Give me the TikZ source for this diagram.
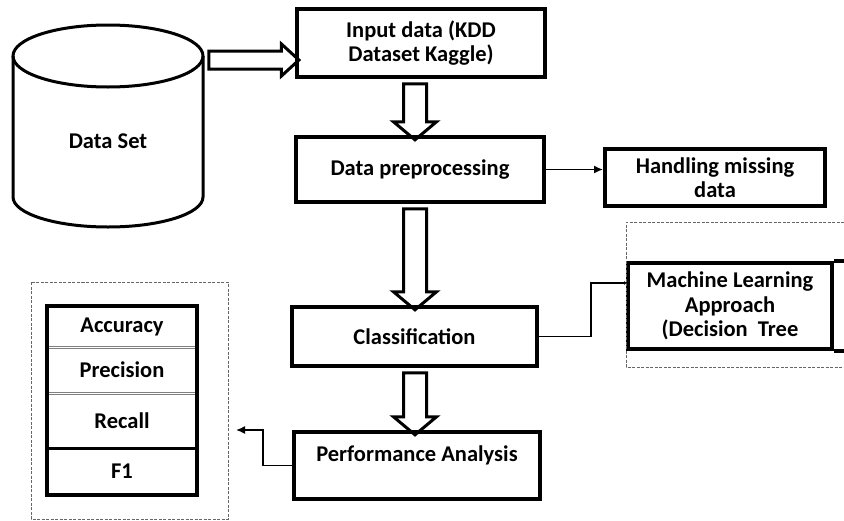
\documentclass[tikz,border=0pt]{standalone}
\usepackage{fontspec}
\setmainfont{Carlito}
\usepackage{tikz}
\usetikzlibrary{shapes.arrows,arrows.meta}
\tikzset{%
    box/.style={draw, line width=4pt, align=center, inner sep=0pt,
        font=\bfseries\fontsize{22.5}{24.5}\selectfont},
    cell/.style={minimum width=149, inner sep=0pt,
        font=\bfseries\fontsize{22.5}{24.5}\selectfont},
    fatarrow/.style={single arrow, draw, line width=3pt, inner xsep=0pt,
        inner ysep=10pt, single arrow head extend=10pt,
        single arrow tip angle=100, sloped, allow upside down},
    conn/.style={line width=1.5pt},
    dashbox/.style={draw=black!60, line width=1pt, dash pattern=on 3pt off 1.5pt},
    greysep/.style={draw=black!50, line width=0.8pt, double=white, double distance=1pt}
}

\begin{document}
\begin{tikzpicture}[x=1pt, y=-1pt]
    \useasboundingbox (0,0) rectangle (844,520);
%    data set drum
    \draw[line width=3pt] (13,56) -- (13,197) arc[start angle=180, end angle=0, x radius=95, y radius=30] -- (203,56);
    \draw[line width=3pt] (108,56) ellipse[x radius=95, y radius=31];
    \node[font=\bfseries\fontsize{22.5}{24.5}\selectfont] (ds) at (108,141) {Data Set};
    \coordinate (dsr) at (203,60);

    \node[box, minimum width=248, minimum height=68] (input) at (421,43) {Input data (KDD\\Dataset Kaggle)};
    \node[box, minimum width=248, minimum height=65] (prep) at (420,169.5) {Data preprocessing};
    \node[box, minimum width=220, minimum height=57] (hand) at (715,177.5) {Handling missing\\data};
    \node[box, minimum width=245, minimum height=59] (class) at (414.5,336.5) {Classification};
    \node[box, minimum width=246, minimum height=67] (perf) at (417,465.5) {Performance Analysis\\\mbox{}};
    \node[box, minimum width=204, minimum height=86] (ml) at (730,306) {Machine Learning\\Approach\\(Decision~ Tree};
    \draw[line width=4pt] (ml.north east) -- ++(11,0) (ml.south east) -- ++(11,0);

%    block arrows
    \path (dsr) -- node[fatarrow, inner ysep=7.5pt, single arrow head extend=7pt, single arrow tip angle=85, minimum height=90]{} (dsr -| input.west);
    \path ([xshift=-6pt]input.south) -- node[fatarrow, minimum height=56]{} ([xshift=-5pt]prep.north);
    \path ([xshift=-5pt]prep.south) -- node[fatarrow, minimum height=101]{} ([xshift=0.5pt]class.north);
    \path ([xshift=0.5pt]class.south) -- node[fatarrow, minimum height=62]{} ([xshift=-2pt]perf.north);

%    metrics
    \node[cell, minimum height=41] (acc) at (122,326.5) {Accuracy};
    \node[cell, minimum height=46] (prec) at (122,370) {Precision};
    \node[cell, minimum height=55] (rec) at (122,420.5) {Recall};
    \node[cell, minimum height=47] (fone) at (122,471.5) {F1};
    \draw[greysep] (acc.south west) -- (acc.south east);
    \draw[greysep] (prec.south west) -- (prec.south east);
    \draw[line width=3pt] (rec.south west) -- (rec.south east);
    \draw[line width=4pt] (acc.north west) rectangle (fone.south east);
    \draw[dashbox] (31,282) rectangle (228,519);
    \draw[dashbox] (844,222) -- (626,222) -- (626,367) -- (844,367);

%    connectors
    \coordinate (mlin) at (627,283);
    \coordinate (metin) at (236,430);
    \draw[conn, -{Latex[length=9pt, width=8pt]}] (prep.east) -- (prep.east -| hand.west);
    \draw[conn, -{Latex[length=3pt, width=4pt]}] (class.east) -- ++(52,0) |- (mlin);
    \draw[conn, -{Latex[length=9pt, width=8pt]}] (perf.west) -- ++(-29,0) |- (metin);
\end{tikzpicture}
\end{document}
